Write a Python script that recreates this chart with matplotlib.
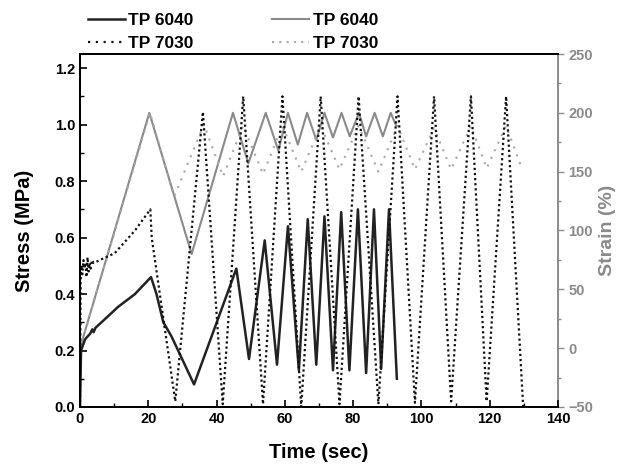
import matplotlib
matplotlib.use("Agg")
import matplotlib.pyplot as plt
from matplotlib.lines import Line2D
from matplotlib.ticker import MultipleLocator, FormatStrFormatter

plt.rcParams['font.family'] = ['Liberation Sans', 'DejaVu Sans']
plt.rcParams['font.weight'] = 'bold'

# ---- data ----
# TP 6040 stress (MPa)
t_stress_6040 = [0, 0.3, 1.5, 3.0, 3.6, 4.0, 4.5, 6.3, 11.2, 16.1, 20.8, 22.4, 24.4, 26.8,
                 33.4, 45.8, 49.5, 54.1, 57.7, 60.9, 64.1, 66.7, 69.2, 71.6, 74.1, 76.5,
                 78.9, 81.4, 83.8, 86.1, 88.2, 90.5, 92.8]
stress_6040 = [0, 0.20, 0.24, 0.26, 0.275, 0.265, 0.28, 0.30, 0.355, 0.40, 0.46, 0.40, 0.30, 0.25,
               0.08, 0.49, 0.17, 0.59, 0.15, 0.64, 0.13, 0.665, 0.15, 0.675, 0.13, 0.69,
               0.13, 0.70, 0.12, 0.70, 0.135, 0.70, 0.10]

# TP 7030 stress (MPa)
t_stress_7030 = [0, 0.2, 0.4, 0.7, 1.0, 1.3, 1.6, 1.9, 2.2, 2.5, 2.8, 3.1, 3.5, 4.0, 10.2,
                 16.1, 20.6, 21.0, 27.9, 36.0, 41.8, 47.8, 53.6, 59.3, 64.8, 70.5, 76.0,
                 81.6, 87.4, 93.0, 98.1, 103.7, 108.7, 114.5, 119.1, 124.8, 129.8]
stress_7030 = [0, 0.45, 0.50, 0.47, 0.52, 0.49, 0.51, 0.46, 0.53, 0.48, 0.51, 0.49, 0.52, 0.51, 0.545,
               0.625, 0.70, 0.60, 0.02, 1.045, 0.01, 1.10, 0.01, 1.10, 0.0, 1.10, 0.01,
               1.10, 0.01, 1.10, 0.015, 1.10, 0.02, 1.10, 0.02, 1.10, 0.0]

# TP 6040 strain (%)
t_strain_6040 = [0, 20.3, 32.7, 44.8, 49.3, 54.4, 58.1, 60.9, 63.8, 66.5, 69.2, 71.6, 74.1,
                 76.6, 79.0, 81.7, 83.8, 86.3, 88.7, 91.0, 92.6]
strain_6040 = [0, 200, 80, 200, 157, 200, 168, 200, 173, 200, 177, 200, 179,
               200, 180, 200, 180, 200, 180, 200, 189]

# TP 7030 strain (%)
t_strain_7030 = [0, 20.5, 27.6, 36.3, 41.9, 47.8, 53.6, 59.3, 64.8, 70.5, 76.0, 81.6, 87.4,
                 93.0, 98.1, 103.7, 108.7, 114.5, 119.1, 124.8, 129.5]
strain_7030 = [0, 200, 129, 190, 146, 189, 148, 189, 150, 189, 152, 189, 150,
               189, 152, 187, 152, 189, 153, 189, 152]

labels = ["TP 6040", "TP 7030"]
x_ticks = [0, 20, 40, 60, 80, 100, 120, 140]

GREY = '#8a8a8a'
GREY_LIGHT = '#a8a8a8'

fig = plt.figure(figsize=(6.2, 4.66), dpi=100)
ax = fig.add_axes([80/620, 1-407/466, (558-80)/620, (407-54)/466])
ax2 = ax.twinx()

ax2.plot(t_strain_6040, strain_6040, color=GREY, lw=1.5, zorder=1)
ax2.plot(t_strain_7030, strain_7030, color=GREY_LIGHT, lw=1.5, ls=(0, (1, 3)), zorder=1)
ax.set_zorder(ax2.get_zorder() + 1)
ax.patch.set_visible(False)
ax.plot(t_stress_6040, stress_6040, color='#222222', lw=1.8)
ax.plot(t_stress_7030, stress_7030, color='#111111', lw=1.6, ls=(0, (1, 1.3)))

ax.set_xlim(0, 140)
ax.set_ylim(0, 1.25)
ax2.set_ylim(-50, 250)
ax.set_xticks(x_ticks)
ax.xaxis.set_minor_locator(MultipleLocator(10))
ax.yaxis.set_major_locator(MultipleLocator(0.2))
ax.yaxis.set_minor_locator(MultipleLocator(0.1))
ax.yaxis.set_major_formatter(FormatStrFormatter('%.1f'))
ax2.yaxis.set_major_locator(MultipleLocator(50))
ax2.yaxis.set_minor_locator(MultipleLocator(25))

for sp in ['left', 'bottom', 'top']:
    ax.spines[sp].set_linewidth(1.4)
    ax2.spines[sp].set_linewidth(1.4)
ax2.spines['right'].set_color(GREY)
ax2.spines['right'].set_linewidth(1.4)
ax.spines['right'].set_visible(False)

ax.tick_params(axis='both', which='major', direction='in', length=5, width=1.2,
               labelsize=10.5, top=False, right=False)
ax.tick_params(axis='both', which='minor', direction='in', length=3, width=1.0,
               top=False, right=False)
ax2.tick_params(axis='y', which='major', direction='out', length=4, width=1.0,
                colors=GREY, labelsize=10.5)
ax2.tick_params(axis='y', which='minor', direction='out', length=2.5, width=1.0, colors=GREY)
for lab in ax.get_xticklabels() + ax.get_yticklabels() + ax2.get_yticklabels():
    lab.set_fontweight('bold')

ax.set_xlabel("Time (sec)", fontsize=14.5, fontweight='bold', labelpad=12)
ax.set_ylabel("Stress (MPa)", fontsize=14.5, fontweight='bold', labelpad=15)
ax2.set_ylabel("Strain (%)", fontsize=14, fontweight='bold', color=GREY, labelpad=4)

handles = [Line2D([], [], color='#222222', lw=1.8),
           Line2D([], [], color='#111111', lw=1.6, ls=(0, (1, 2.5))),
           Line2D([], [], color=GREY, lw=1.5),
           Line2D([], [], color=GREY_LIGHT, lw=1.5, ls=(0, (1, 2.5)))]
fig.legend(handles, labels + labels, ncol=2, loc='upper left',
           bbox_to_anchor=(79/620, 1-4/466), frameon=False, borderpad=0,
           handlelength=2.15, handletextpad=0.2, columnspacing=4.5, labelspacing=0.45,
           prop={'weight': 'bold', 'size': 12.5})

fig.savefig("out.png", dpi=100)
